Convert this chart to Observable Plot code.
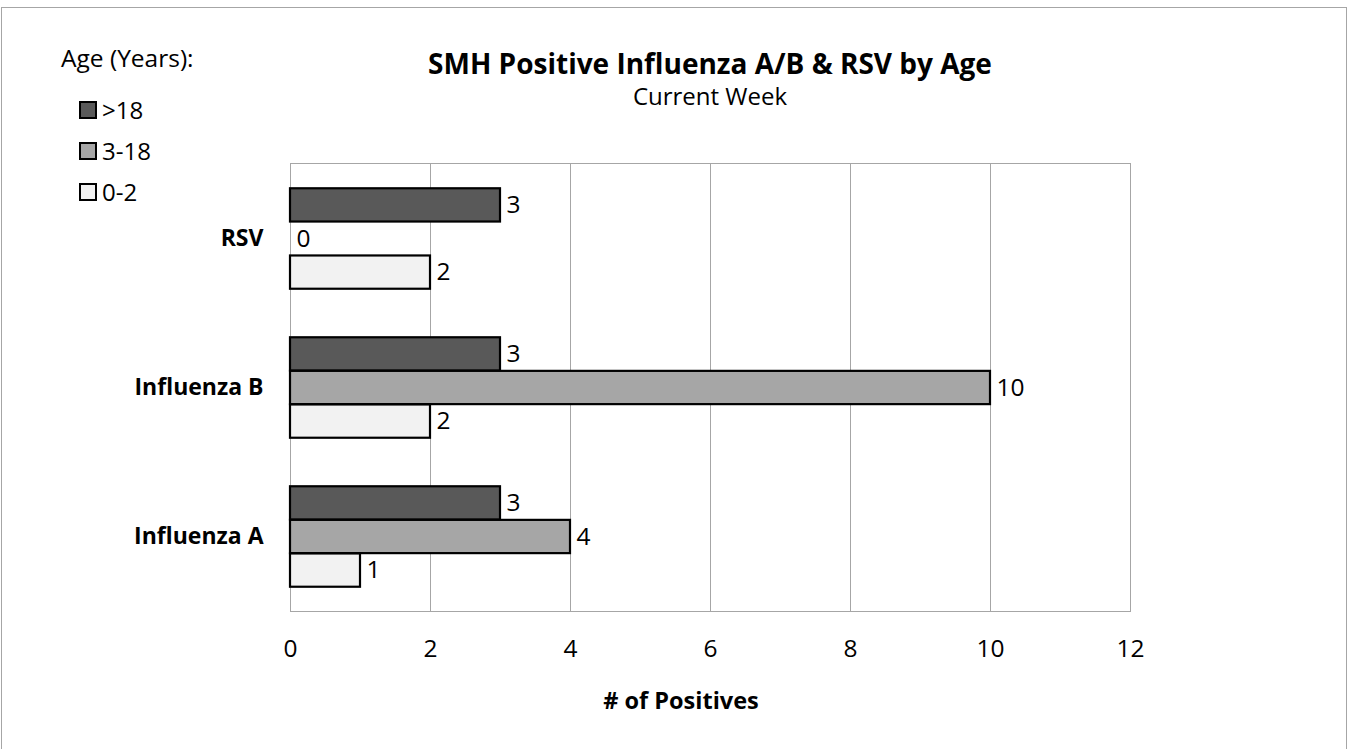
<!DOCTYPE html>
<html>
<head>
<meta charset="utf-8">
<script src="https://cdn.jsdelivr.net/npm/d3@7"></script>
<script src="https://cdn.jsdelivr.net/npm/@observablehq/plot@0.6"></script>
<style>
  html, body { margin: 0; padding: 0; background: #fff; }
  body { width: 1355px; height: 749px; overflow: hidden; font-family: "Open Sans", sans-serif; color: #000; }
  #wrap { position: relative; width: 1355px; height: 749px; }
  #border { position: absolute; left: 1px; top: 7px; width: 1346px; height: 745px; border: 1px solid #a6a6a6; box-sizing: border-box; }
  #chart { position: absolute; left: 0; top: 0; }
  .t { position: absolute; white-space: nowrap; line-height: 1; }
  #title { left: 0; width: 1420px; text-align: center; top: 49px; font-size: 28px; font-weight: bold; }
  #subtitle { left: 0; width: 1420px; text-align: center; top: 84px; font-size: 24px; }
  #legtitle { left: 61px; top: 46px; font-size: 24.5px; }
  .leg { position: absolute; left: 79px; display: flex; align-items: center; font-size: 24px; line-height: 1; }
  .sw { width: 14px; height: 14px; border: 2px solid #000; margin-right: 5px; box-sizing: content-box; }
  #xlabel { left: 0; width: 1362px; text-align: center; top: 689px; font-size: 23.5px; font-weight: bold; }
</style>
</head>
<body>
<div id="wrap">
  <div id="border"></div>
  <div id="chart"></div>
  <div class="t" id="legtitle"></div>
  <div id="legend"></div>
  <div class="t" id="title">SMH Positive Influenza A/B &amp; RSV by Age</div>
  <div class="t" id="subtitle">Current Week</div>
  <div class="t" id="xlabel"># of Positives</div>
</div>
<script>
// ---- data ----
const groups = ["RSV", "Influenza B", "Influenza A"];
const ageSeries = [">18", "3-18", "0-2"];
const over18 = [3, 3, 3];
const age3to18 = [0, 10, 4];
const age0to2 = [2, 2, 1];
const xTicks = [0, 2, 4, 6, 8, 10, 12];
const legendTitle = "Age (Years):";

const seriesColors = {">18": "#595959", "3-18": "#a6a6a6", "0-2": "#f2f2f2"};
const seriesValues = {">18": over18, "3-18": age3to18, "0-2": age0to2};
const barH = 33.6;
const offsets = {">18": -barH, "3-18": 0, "0-2": barH};

document.getElementById("legtitle").textContent = legendTitle;

// legend
const legend = document.getElementById("legend");
const legTops = [98, 139, 180];
ageSeries.forEach((a, i) => {
  const d = document.createElement("div");
  d.className = "leg";
  d.style.top = legTops[i] + "px";
  d.innerHTML = `<span class="sw" style="background:${seriesColors[a]}"></span><span>${a}</span>`;
  legend.appendChild(d);
});

const W = 1355, H = 749;
const mTop = 163, mBottom = 138, mLeft = 290, mRight = 225;
const bandH = (H - mTop - mBottom) / groups.length;
const inset = (bandH - barH) / 2;

const marks = [
  Plot.gridX(xTicks, {stroke: "#a6a6a6", strokeOpacity: 1, strokeWidth: 1}),
  Plot.frame({stroke: "#a6a6a6", strokeWidth: 1})
];
for (const a of ageSeries) {
  const rows = groups.map((g, i) => ({group: g, value: seriesValues[a][i]}));
  marks.push(Plot.barX(rows.filter(d => d.value > 0), {
    x: "value", y: "group", dy: offsets[a],
    insetTop: inset, insetBottom: inset,
    fill: seriesColors[a], stroke: "#000", strokeWidth: 2.2
  }));
  marks.push(Plot.text(rows, {
    x: "value", y: "group", dy: offsets[a], dx: 6,
    text: d => String(d.value), textAnchor: "start",
    fontSize: 24.5, fill: "#000"
  }));
}
marks.push(Plot.axisX({ticks: xTicks, tickSize: 0, tickPadding: 28, fontSize: 24.5, label: null}));
marks.push(Plot.axisY({tickSize: 0, tickPadding: 27, fontSize: 23, fontWeight: "bold", label: null}));

const chart = Plot.plot({
  width: W, height: H,
  marginTop: mTop, marginBottom: mBottom, marginLeft: mLeft, marginRight: mRight,
  style: {fontFamily: "Open Sans", background: "transparent", color: "#000", overflow: "visible"},
  x: {domain: [0, 12]},
  y: {domain: groups, padding: 0},
  marks
});
document.getElementById("chart").appendChild(chart);
</script>
</body>
</html>
